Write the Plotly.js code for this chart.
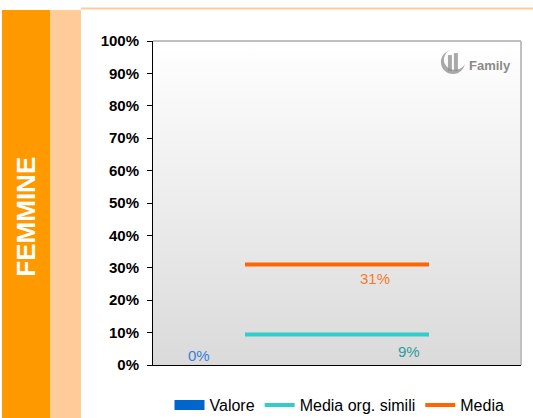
<!DOCTYPE html>
<html>
<head>
<meta charset="utf-8">
<script src="https://cdn.plot.ly/plotly-3.0.1.min.js"></script>
<style>
html,body{margin:0;padding:0;background:#fff;}
#chart{width:533px;height:418px;}
</style>
</head>
<body>
<div id="chart"></div>
<script>
// ---- data ----
const categories = ['A', 'B'];
const valore = [0];
const mediaSimili = [0.094, 0.094];
const media = [0.31, 0.31];
const valoreLabel = '0%';
const mediaSimiliLabel = '9%';
const mediaLabel = '31%';
const sectionTitle = 'FEMMINE';
const seriesNames = ['Valore', 'Media org. simili', 'Media'];
const logoText = 'Family';

const FONT = 'Liberation Sans, Arial, sans-serif';

const gradSvg = '<svg xmlns="http://www.w3.org/2000/svg" width="100" height="100" preserveAspectRatio="none">' +
  '<defs><linearGradient id="g" x1="0" y1="0" x2="0" y2="1">' +
  '<stop offset="0" stop-color="#ffffff"/><stop offset="1" stop-color="#dadada"/></linearGradient></defs>' +
  '<rect width="100" height="100" fill="url(#g)"/></svg>';
const gradUri = 'data:image/svg+xml;base64,' + btoa(gradSvg);

const traces = [
  {
    type: 'bar', name: seriesNames[0], x: [categories[0]], y: valore,
    marker: {color: '#0066cc'}, showlegend: false, hoverinfo: 'skip'
  },
  // legend key for the Valore bar series (wide block like the original)
  {
    type: 'scatter', mode: 'lines', name: seriesNames[0], x: [null], y: [null],
    line: {color: '#0066cc', width: 11}, showlegend: true, hoverinfo: 'skip'
  },
  {
    type: 'scatter', mode: 'lines', name: seriesNames[1], x: categories, y: mediaSimili,
    line: {color: '#33cccc', width: 4}
  },
  {
    type: 'scatter', mode: 'lines', name: seriesNames[2], x: categories, y: media,
    line: {color: '#ff6600', width: 4}
  }
];

const layout = {
  width: 533, height: 418,
  margin: {l: 153, r: 12, t: 41, b: 53, pad: 0, autoexpand: false},
  paper_bgcolor: '#ffffff',
  plot_bgcolor: 'rgba(0,0,0,0)',
  showlegend: true,
  font: {family: FONT, color: '#000'},
  xaxis: {
    type: 'category', categoryarray: categories, range: [-0.5, 1.5],
    showticklabels: false, ticks: '', showgrid: false, zeroline: false,
    showline: true, linecolor: '#000', linewidth: 1, fixedrange: true
  },
  yaxis: {
    range: [0, 1], dtick: 0.1, tick0: 0, tickformat: '.0%',
    ticks: 'outside', ticklen: 5, tickcolor: '#000', tickwidth: 1,
    showline: true, linecolor: '#000', linewidth: 1,
    showgrid: false, zeroline: false,
    tickfont: {family: FONT, size: 15, color: '#000', weight: 'bold'},
    ticklabelstandoff: 5, fixedrange: true
  },
  legend: {
    orientation: 'h', xref: 'container', yref: 'container',
    x: 0.318, xanchor: 'left', y: 0.031, yanchor: 'middle',
    font: {family: FONT, size: 16, color: '#000'},
    itemwidth: 30, tracegroupgap: 0, bgcolor: 'rgba(0,0,0,0)'
  },
  images: [{
    source: gradUri, xref: 'paper', yref: 'paper', x: 0, y: 1,
    sizex: 1, sizey: 1, xanchor: 'left', yanchor: 'top',
    sizing: 'stretch', layer: 'below'
  }],
  shapes: [
    // orange side band
    {type: 'rect', xref: 'paper', yref: 'paper', x0: -0.4103, x1: -0.2799, y0: -0.5, y1: 1.0957,
     fillcolor: '#ff9900', line: {width: 0}, layer: 'below'},
    // peach side band
    {type: 'rect', xref: 'paper', yref: 'paper', x0: -0.2799, x1: -0.1957, y0: -0.5, y1: 1.0957,
     fillcolor: '#ffcc99', line: {width: 0}, layer: 'below'},
    // top peach rule
    {type: 'line', xref: 'paper', yref: 'paper', x0: -0.1957, x1: 1.04, y0: 1.1003, y1: 1.1003,
     line: {color: '#ffcc99', width: 2}, layer: 'below'},
    // top & right plot border (gray)
    {type: 'line', xref: 'paper', yref: 'paper', x0: 0, x1: 1, y0: 1, y1: 1,
     line: {color: '#c0c0c0', width: 2}},
    {type: 'line', xref: 'paper', yref: 'paper', x0: 1, x1: 1, y0: 0, y1: 1,
     line: {color: '#c0c0c0', width: 2}},
    // logo: gray crescent + two small figures
    {type: 'circle', xref: 'paper', yref: 'paper', xsizemode: 'pixel', ysizemode: 'pixel',
     xanchor: 0.815, yanchor: 0.935, x0: -12, x1: 12, y0: -12, y1: 12,
     fillcolor: '#a8a8a8', line: {width: 0}},
    {type: 'circle', xref: 'paper', yref: 'paper', xsizemode: 'pixel', ysizemode: 'pixel',
     xanchor: 0.815, yanchor: 0.935, x0: -9, x1: 13, y0: -8, y1: 13,
     fillcolor: '#fdfdfd', line: {width: 0}},
    {type: 'rect', xref: 'paper', yref: 'paper', xsizemode: 'pixel', ysizemode: 'pixel',
     xanchor: 0.815, yanchor: 0.935, x0: -5, x1: -1, y0: -9, y1: 7,
     fillcolor: '#8c8c8c', line: {width: 0}, opacity: 0.75},
    {type: 'rect', xref: 'paper', yref: 'paper', xsizemode: 'pixel', ysizemode: 'pixel',
     xanchor: 0.815, yanchor: 0.935, x0: 1, x1: 5, y0: -9, y1: 9,
     fillcolor: '#8c8c8c', line: {width: 0}, opacity: 0.75}
  ],
  annotations: [
    {xref: 'paper', yref: 'paper', x: -0.345, y: 0.458, xanchor: 'center', yanchor: 'middle',
     text: '<b>' + sectionTitle + '</b>',
     textangle: -90, showarrow: false, font: {family: FONT, size: 26, color: '#ffffff'}},
    {x: categories[0], y: valore[0], text: valoreLabel, showarrow: false,
     xshift: -46, yshift: 10, font: {family: FONT, size: 15, color: '#3a7fd5'}},
    {x: categories[1], y: mediaSimili[1], text: mediaSimiliLabel, showarrow: false,
     xshift: -20, yshift: -17, font: {family: FONT, size: 15, color: '#2e9c9c'}},
    {x: categories[1], y: media[1], text: mediaLabel, showarrow: false,
     xshift: -54, yshift: -14, font: {family: FONT, size: 15, color: '#f47a2a'}},
    {xref: 'paper', yref: 'paper', x: 0.916, y: 0.923, xanchor: 'center', yanchor: 'middle',
     text: '<b>' + logoText + '</b>', showarrow: false,
     font: {family: FONT, size: 13, color: '#8a8a8a'}}
  ]
};

Plotly.newPlot('chart', traces, layout, {displayModeBar: false, staticPlot: true});
</script>
</body>
</html>
